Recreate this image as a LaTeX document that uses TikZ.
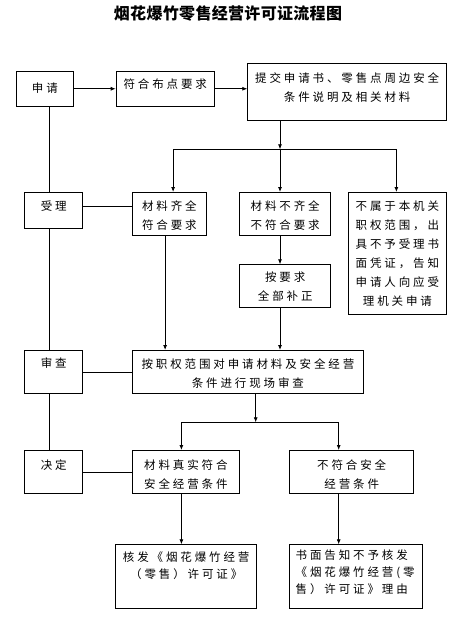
\documentclass[tikz,border=0pt]{standalone}
\usepackage{fontspec}
\usepackage{tikz}
\usetikzlibrary{arrows.meta,calc,positioning}
\setmainfont{Noto Sans CJK SC}
\newfontfamily\boxfont[LetterSpace=25]{Noto Sans CJK SC}
\newfontfamily\titlefont[LetterSpace=2]{Noto Sans CJK SC}
% box text: width, height, top padding, lines
\newcommand{\bxt}[4]{\parbox[t][#2pt][t]{#1pt}{\boxfont\fontsize{11.5}{19}\selectfont\centering\vspace*{#3pt}#4}}
\newcommand{\bxl}[4]{\parbox[t][#2pt][t]{#1pt}{\boxfont\fontsize{11.5}{16.7}\selectfont\raggedright\leftskip=6pt\vspace*{#3pt}#4}}
\begin{document}
\begin{tikzpicture}[x=1pt,y=-1pt,>={Latex[length=5pt,width=4pt]},
  box/.style={draw,line width=0.8pt,inner sep=0pt,anchor=north west},
  flow/.style={->,line width=0.8pt},
  link/.style={line width=0.8pt}]
  \useasboundingbox (0,0) rectangle (471,619);

  % Title.
  \node[font=\titlefont\bfseries\fontsize{16}{16}\selectfont] (title) at (228,13.5) {烟花爆竹零售经营许可证流程图};

  % Stage boxes, left column.
  \node[box] (shenqing) at (15.7,70.7) {\bxt{57.6}{35.3}{11.3}{申请}};
  \node[box] (shouli) at (24.3,192) {\bxt{58}{36.3}{8.7}{受理}};
  \node[box] (shencha) at (24.3,350) {\bxt{58}{43.3}{7.7}{审查}};
  \node[box] (jueding) at (24.3,450) {\bxt{58}{43.3}{9.7}{决定}};

  % Application.
  \node[box] (fuhe) at (115.7,70.7) {\bxt{98.3}{35.3}{7.3}{符合布点要求}};
  \node[box] (tijiao) at (247.3,63.3) {\bxt{199}{56.7}{8.7}{提交申请书、零售点周边安全\\条件说明及相关材料}};

  % Acceptance.
  \node[box] (qiquan) at (131.7,192) {\bxt{74.6}{43.3}{8.7}{材料齐全\\符合要求}};
  \node[box] (buqi) at (239.3,192) {\bxt{91}{43.3}{8.7}{材料不齐全\\不符合要求}};
  \node[box] (bushu) at (347.7,192) {\bxt{98.6}{122}{8.7}{不属于本机关\\职权范围，出\\具不予受理书\\面凭证，告知\\申请人向应受\\理机关申请}};
  \node[box] (buzheng) at (239.3,264.3) {\bxt{91}{43}{7.1}{按要求\\全部补正}};

  % Review.
  \node[box] (anzhiquan) at (131.7,350) {\bxt{231.6}{43.3}{8}{按职权范围对申请材料及安全经营\\条件进行现场审查}};

  % Decision.
  \node[box] (zhenshi) at (131.7,450) {\bxt{107.6}{43.3}{9.7}{材料真实符合\\安全经营条件}};
  \node[box] (bufuhe) at (289.3,450) {\bxt{124}{43.3}{9.7}{不符合安全\\经营条件}};
  \node[box] (hefa) at (115.3,544.3) {\bxl{141}{64}{7.1}{\centering 核发《烟花爆竹经营\\（零售）许可证》}};
  \node[box] (shumian) at (289.3,544.3) {\bxl{132.4}{64}{5.4}{书面告知不予核发\\《烟花爆竹经营(零\\售）许可证》理由}};

  % Connectors.
  \draw[flow] (shenqing.east) -- (fuhe.west);
  \draw[flow] (fuhe.east) -- (fuhe.east -| tijiao.west);
  \coordinate (fork1) at (280,149.3);
  \draw[flow] (tijiao.south -| fork1) -- (fork1);
  \draw[flow] (fork1) -| ([xshift=3.7pt]qiquan.north);
  \draw[flow] (fork1) -- (fork1 |- buqi.north);
  \draw[flow] (fork1) -| ([xshift=-1pt]bushu.north);
  \draw[flow] (buqi.south -| fork1) -- (buzheng.north -| fork1);
  \draw[flow] ([xshift=-4.3pt]qiquan.south) -- ([xshift=-4.3pt]qiquan.south |- anzhiquan.north);
  \draw[flow] (buzheng.south -| fork1) -- (anzhiquan.north -| fork1);

  \coordinate (lane) at (49.7,0);
  \draw[link] (shenqing.south -| lane) -- (shouli.north -| lane);
  \draw[link] (shouli.south -| lane) -- (shencha.north -| lane);
  \draw[link] (shencha.south -| lane) -- (jueding.north -| lane);
  \draw[link] ([yshift=4.2pt]shouli.east) -- ([yshift=4.2pt]shouli.east -| qiquan.west);
  \draw[link] (shencha.east) -- (anzhiquan.west);
  \draw[link] (jueding.east) -- (zhenshi.west);

  \coordinate (fork2) at (255.7,422.3);
  \draw[flow] (anzhiquan.south -| fork2) -- (fork2);
  \draw[flow] (fork2) -| ([xshift=-4.5pt]zhenshi.north);
  \draw[flow] (fork2) -| ([xshift=-13pt]bufuhe.north);
  \draw[flow] ([xshift=-4.5pt]zhenshi.south) -- ([xshift=-4.5pt]zhenshi.south |- hefa.north);
  \draw[flow] ([xshift=-13pt]bufuhe.south) -- ([xshift=-13pt]bufuhe.south |- shumian.north);
\end{tikzpicture}
\end{document}
